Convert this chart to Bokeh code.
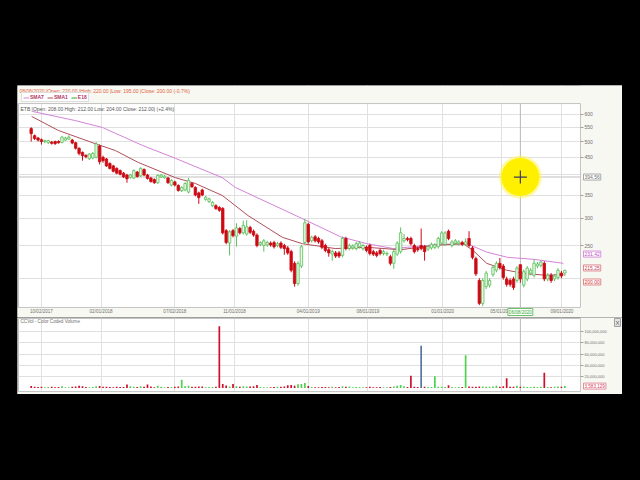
import pandas as pd
from bokeh.plotting import figure
from bokeh.models import (Range1d, FixedTicker, DatetimeTickFormatter, PrintfTickFormatter,
                          NumeralTickFormatter, Span, Label, Legend, LegendItem)
from bokeh.layouts import column
from bokeh.embed import file_html
from bokeh.resources import INLINE

# ---------------- data ----------------
first_week = "2017-09-11"
opens = [545, 520, 512, 506, 500, 496, 498, 500, 500, 497,
         505, 508, 505, 496, 478, 465, 456, 446, 448, 450,
         485, 450, 445, 432, 425, 418, 412, 405, 400, 394,
         392, 408, 398, 415, 400, 392, 388, 380, 395, 393,
         392, 374, 382, 373, 360, 362, 357, 378, 368, 355,
         362, 340, 335, 326, 326, 322, 320, 276, 254, 276,
         266, 280, 272, 270, 282, 275, 268, 252, 250, 251,
         254, 255, 250, 254, 250, 246, 240, 222, 194, 218,
         255, 288, 258, 265, 262, 258, 250, 243, 236, 238,
         238, 234, 262, 245, 246, 245, 248, 245, 247, 250,
         240, 238, 242, 237, 236, 232, 222, 236, 240, 258,
         262, 262, 250, 245, 250, 248, 244, 246, 247, 248,
         254, 252, 275, 250, 254, 253, 255, 252, 262, 246,
         229, 198, 170, 190, 192, 206, 212, 222, 218, 200,
         198, 200, 198, 220, 192, 200, 208, 205, 218, 219,
         222, 200, 205, 200, 202, 208, 208]
highs = [550, 524, 516, 510, 506, 506, 502, 503, 504, 519,
         516, 521, 509, 499, 481, 468, 459, 463, 466, 498,
         490, 455, 448, 435, 428, 421, 415, 408, 403, 403,
         415, 411, 421, 418, 403, 395, 391, 402, 403, 400,
         395, 389, 385, 376, 371, 381, 392, 381, 371, 358,
         365, 348, 344, 336, 329, 325, 323, 279, 277, 279,
         290, 283, 295, 296, 285, 278, 271, 257, 261, 258,
         257, 258, 256, 257, 253, 249, 243, 225, 225, 251,
         298, 291, 267, 268, 265, 261, 253, 246, 243, 241,
         241, 265, 265, 253, 252, 256, 257, 253, 250, 253,
         243, 241, 245, 243, 240, 235, 243, 257, 282, 270,
         265, 265, 253, 248, 280, 251, 251, 255, 254, 265,
         275, 275, 278, 259, 261, 259, 258, 262, 275, 249,
         232, 201, 201, 211, 201, 219, 225, 230, 221, 203,
         201, 203, 218, 220, 213, 218, 215, 228, 224, 226,
         225, 208, 208, 207, 215, 211, 212]
lows = [500, 505, 500, 490, 494, 492, 490, 489, 493, 494,
        502, 505, 491, 474, 456, 440, 447, 442, 444, 447,
        429, 434, 422, 415, 407, 402, 399, 392, 380, 390,
        389, 393, 395, 397, 388, 380, 377, 377, 392, 390,
        377, 371, 371, 358, 357, 359, 354, 367, 347, 330,
        347, 337, 332, 323, 317, 313, 269, 252, 234, 264,
        248, 269, 269, 267, 270, 265, 247, 249, 240, 248,
        248, 245, 247, 244, 235, 235, 209, 190, 191, 215,
        252, 253, 255, 255, 253, 244, 239, 232, 226, 230,
        230, 231, 242, 242, 243, 242, 245, 242, 239, 234,
        233, 231, 234, 234, 233, 219, 214, 233, 237, 255,
        257, 250, 237, 240, 242, 226, 241, 243, 244, 245,
        251, 249, 259, 247, 251, 250, 249, 249, 247, 228,
        204, 168, 167, 187, 189, 203, 209, 213, 199, 190,
        190, 186, 195, 195, 189, 197, 205, 202, 215, 216,
        197, 197, 195, 197, 199, 201, 204]
closes = [527, 510, 505, 500, 503, 503, 494, 493, 496, 515,
          512, 515, 495, 478, 462, 455, 452, 460, 462, 492,
          437, 440, 425, 418, 410, 405, 402, 395, 390, 400,
          412, 396, 418, 400, 391, 383, 380, 399, 400, 397,
          380, 386, 374, 361, 368, 378, 386, 370, 350, 344,
          350, 345, 341, 333, 320, 316, 272, 255, 274, 267,
          281, 272, 286, 283, 273, 268, 250, 255, 258, 255,
          251, 248, 253, 247, 245, 238, 212, 194, 222, 248,
          291, 256, 264, 258, 256, 247, 242, 238, 240, 233,
          233, 262, 245, 250, 249, 253, 254, 250, 242, 237,
          236, 234, 237, 240, 237, 222, 240, 254, 272, 262,
          260, 253, 240, 243, 245, 240, 248, 252, 251, 262,
          272, 272, 262, 256, 258, 256, 252, 256, 250, 231,
          207, 170, 198, 208, 198, 216, 222, 216, 202, 193,
          193, 189, 215, 200, 210, 215, 212, 222, 221, 224,
          200, 205, 198, 204, 212, 204, 212]
volume_millions = [3.8, 2.4, 2.0, 2.6, 1.6, 1.8, 2.2, 1.5, 2.0, 3.2,
                   1.5, 1.6, 2.4, 2.8, 4.0, 3.4, 2.0, 1.7, 1.9, 3.3,
                   3.6, 2.6, 2.2, 1.9, 1.7, 2.4, 2.0, 1.8, 6.4, 3.1,
                   2.5, 2.0, 3.2, 2.4, 6.6, 2.8, 1.6, 4.2, 2.2, 1.5,
                   1.8, 2.0, 2.5, 3.0, 14.6, 3.5, 4.0, 2.2, 2.5, 3.0,
                   2.8, 1.6, 2.0, 1.8, 2.6, 109.5, 7.4, 4.6, 3.0, 7.2,
                   3.4, 2.6, 3.2, 2.8, 3.0, 3.4, 5.6, 1.8, 1.6, 1.5,
                   1.6, 1.8, 2.6, 2.2, 3.0, 5.0, 5.4, 4.0, 7.0, 7.4,
                   9.2, 3.6, 1.8, 1.5, 1.6, 1.8, 2.0, 1.7, 2.2, 1.5,
                   1.8, 3.4, 2.6, 3.0, 1.6, 1.8, 2.0, 1.6, 1.5, 2.2,
                   1.7, 1.6, 1.8, 1.5, 1.6, 2.0, 3.0, 4.2, 5.6, 3.2,
                   1.8, 22.0, 2.2, 1.8, 75.0, 2.6, 1.8, 2.0, 20.8, 2.2,
                   2.4, 1.8, 5.0, 2.0, 1.6, 1.8, 2.0, 58.0, 3.0, 2.6,
                   2.2, 2.8, 3.0, 2.4, 2.2, 3.0, 4.2, 2.6, 3.2, 17.5,
                   2.6, 2.4, 4.0, 2.6, 2.2, 2.0, 1.8, 2.4, 2.0, 2.2,
                   27.0, 1.8, 1.6, 2.6, 3.0, 2.2, 3.583129]
highlight_weeks = ["2019-11-18"]

sma7_dates = ["2017-09-14", "2017-12-10", "2018-02-04", "2018-04-27", "2018-07-03",
              "2018-10-07", "2018-11-03", "2019-03-20", "2019-06-06", "2019-07-30",
              "2019-09-22", "2019-10-21", "2019-12-27", "2020-02-20", "2020-04-01",
              "2020-05-13", "2020-07-05", "2020-09-04"]
sma7_values = [611, 575, 549, 487, 447, 393, 368, 299, 265, 253,
               245, 247, 252, 253, 239, 231, 228, 222]
sma1_dates = ["2017-09-12", "2017-11-06", "2018-01-20", "2018-03-02", "2018-04-18",
              "2018-07-03", "2018-08-13", "2018-10-07", "2018-11-29", "2019-02-07",
              "2019-03-20", "2019-05-26", "2019-07-30", "2019-10-06", "2019-12-13",
              "2020-02-12", "2020-03-03", "2020-03-31", "2020-05-11", "2020-06-21",
              "2020-08-01", "2020-09-04"]
sma1_values = [591, 538, 493, 471, 435, 393, 378, 349, 305, 264,
               253, 245, 247, 243, 250, 253, 242, 222, 212, 207, 205, 206]
e18_dates = ["2020-09-04"]          # E18 is listed in the legend but not drawn
e18_values = [float("nan")]

date_ticks = ["2017-10-02", "2018-02-01", "2018-07-02", "2018-11-01", "2019-04-01",
              "2019-08-01", "2020-01-01", "2020-05-01", "2020-09-01"]
price_ticks = [250, 300, 350, 450, 500, 550, 600]
price_grid = [200, 250, 300, 350, 400, 450, 500, 550, 600]
volume_ticks = [20e6, 40e6, 60e6, 80e6, 100e6]

cross_date = "2020-06-08"
cross_price = 394.56
sma7_last, sma1_last, cross_close = 231.42, 215.25, 200.00
last_volume = 3583129

header_text = "08/06/2020 |Open: 220.00 |High: 220.00 |Low: 195.00 |Close: 200.00 (-0.7%)"
info_text = "ETB |Open: 208.00  High: 212.00  Low: 204.00  Close: 212.00| (+2.4%)"

# ---------------- geometry (styles, not data) ----------------
X_START, X_END = "2017-08-14", "2021-01-03"          # whole panel width
PLOT_X0, PLOT_X1 = "2017-08-16", "2020-10-09"        # plot area
P_YMIN, P_YMAX = 154.7, 726.4                        # whole price panel (log)
P_PLOT_LO, P_PLOT_HI = 165.4, 644.0                  # price plot area
V_YMIN, V_YMAX = -11.3e6, 125e6                      # whole volume panel
V_PLOT_LO, V_PLOT_HI = -6e6, 123.2e6                 # volume plot area


def ms(s):
    return pd.Timestamp(s).value / 1e6


FONT = "Liberation Sans"
PANEL = "#f8f8f2"
RED = "#cc0a14"
GREEN_LINE = "#5cbf5c"
GREEN_FILL = "#e9f8e9"

dates = pd.date_range(first_week, periods=len(closes), freq="7D")
up = [c >= o for o, c in zip(opens, closes)]
body_top = [max(o, c) for o, c in zip(opens, closes)]
body_bot = [min(o, c) for o, c in zip(opens, closes)]
cfill = [GREEN_FILL if u else RED for u in up]
cline = [GREEN_LINE if u else RED for u in up]
hl = set(pd.to_datetime(highlight_weeks))
vcol = ["#56789e" if d in hl else ("#4fd14f" if u else "#cc1030") for d, u in zip(dates, up)]
volumes = [v * 1e6 for v in volume_millions]

x_range = Range1d(ms(X_START), ms(X_END))
fmt = "%m/%d/%Y"
dt_fmt = DatetimeTickFormatter(days=fmt, months=fmt, years=fmt, hours=fmt,
                               minutes=fmt, seconds=fmt, milliseconds=fmt,
                               microseconds=fmt, minsec=fmt, hourmin=fmt)
xt = FixedTicker(ticks=[ms(d) for d in date_ticks])


def panel_strips(fig, ylo, yhi, plo, phi):
    xs0, xs1, px0, px1 = ms(X_START), ms(X_END), ms(PLOT_X0), ms(PLOT_X1)
    # beige surroundings of the plot area (hide grid lines there)
    fig.quad(left=[xs0, xs0, xs0, px1], right=[xs1, xs1, px0, xs1],
             bottom=[phi, ylo, ylo, ylo], top=[yhi, plo, yhi, yhi],
             fill_color=PANEL, line_color=None)


def plot_outline(fig, plo, phi):
    fig.quad(left=[ms(PLOT_X0)], right=[ms(PLOT_X1)], bottom=[plo], top=[phi],
             fill_color=None, line_color="#c4c4c4", line_width=1)


# ---------------- price figure ----------------
p = figure(width=605, height=232, x_axis_type="datetime", y_axis_type="log",
           x_range=x_range, y_range=Range1d(P_YMIN, P_YMAX), y_axis_location="right",
           toolbar_location=None, output_backend="svg",
           min_border_left=0, min_border_right=0, min_border_top=0, min_border_bottom=0,
           background_fill_color="white", border_fill_color=PANEL,
           outline_line_color=None)

p.xaxis.ticker = xt
p.xaxis.formatter = dt_fmt
p.xaxis.fixed_location = P_PLOT_LO
p.xgrid.ticker = xt
p.yaxis.ticker = FixedTicker(ticks=price_ticks)
p.yaxis.formatter = PrintfTickFormatter(format="%d")
p.yaxis.fixed_location = ms(PLOT_X1)
p.ygrid.ticker = FixedTicker(ticks=price_grid)
for ax in (p.xaxis[0], p.yaxis[0]):
    ax.axis_line_color = None
    ax.minor_tick_line_color = None
    ax.major_label_text_color = "#707070"
    ax.major_label_text_font = FONT
    ax.major_tick_in = 0
p.xaxis.major_tick_out = 0
p.xaxis.major_label_standoff = 2
p.xaxis.major_label_text_font_size = "4.6px"
p.yaxis.major_tick_out = 3
p.yaxis.major_tick_line_color = "#a0a0a0"
p.yaxis.major_label_standoff = 1
p.yaxis.major_label_text_font_size = "5px"
p.grid.grid_line_color = "#e0e0e0"

p.add_layout(Span(location=ms(cross_date), dimension="height", line_color="#b8b8b8",
                  line_width=1, level="underlay"))
p.add_layout(Span(location=cross_price, dimension="width", line_color="#d4d4d4",
                  line_width=1.5, level="underlay"))

panel_strips(p, P_YMIN, P_YMAX, P_PLOT_LO, P_PLOT_HI)

r7 = p.line(pd.to_datetime(sma7_dates), sma7_values, line_color="#d483d8", line_width=1)
r1 = p.line(pd.to_datetime(sma1_dates), sma1_values, line_color="#b24e5a", line_width=1)
r18 = p.line(pd.to_datetime(e18_dates), e18_values, line_color="#2ea82e", line_width=1)

p.segment(x0=dates, y0=highs, x1=dates, y1=lows, line_color=cline, line_width=1)
p.vbar(x=dates, top=body_top, bottom=body_bot, width=5 * 86400000,
       fill_color=cfill, line_color=cline, line_width=0.8)

p.scatter([pd.Timestamp(cross_date)], [cross_price], size=43, fill_color="#fff45c",
          fill_alpha=0.55, line_color=None)
p.scatter([pd.Timestamp(cross_date)], [cross_price], size=38, fill_color="#fff000",
          line_color=None)
p.scatter([pd.Timestamp(cross_date)], [cross_price], marker="cross", size=13,
          line_color="#3c3c5c", line_width=1.2)
plot_outline(p, P_PLOT_LO, P_PLOT_HI)

# header, legend and info line (screen units from the panel's bottom-left)
p.add_layout(Label(x=2, y=226.5, x_units="screen", y_units="screen", text=header_text,
                   text_font=FONT, text_font_size="5px", text_color="#e0603c",
                   text_baseline="middle"))
legend = Legend(items=[LegendItem(label="SMA7", renderers=[r7]),
                       LegendItem(label="SMA1", renderers=[r1]),
                       LegendItem(label="E18", renderers=[r18])],
                orientation="horizontal", location=(4, 215), margin=0, padding=1,
                spacing=3, glyph_width=6, glyph_height=5, label_standoff=1,
                label_width=0, label_height=5, label_text_font=FONT,
                label_text_font_size="5px", label_text_color="#b03a6a",
                label_text_font_style="bold",
                border_line_color="#bdbdbd", background_fill_color="white")
p.add_layout(legend)
p.add_layout(Label(x=3, y=209, x_units="screen", y_units="screen", text=info_text,
                   text_font=FONT, text_font_size="5px", text_color="#555555",
                   text_baseline="middle"))

# value boxes on the price axis
for val, txt, tc, bc, yo in [(cross_price, "394.56", "#707070", "#a8a8a8", 0),
                             (sma7_last, "231.42", "#c050c8", "#d890dc", 3),
                             (sma1_last, "215.25", "#c84050", "#dc8890", 0),
                             (cross_close, "200.00", "#d03030", "#e08888", -3)]:
    p.add_layout(Label(x=ms(PLOT_X1), y=val, x_offset=3, y_offset=yo, text=txt,
                       text_font=FONT, text_font_size="5px", text_color=tc,
                       text_baseline="middle", border_line_color=bc,
                       background_fill_color="white", padding=1))
p.add_layout(Label(x=ms(cross_date), y=5.5, y_units="screen", text="06/08/2020",
                   text_font=FONT, text_font_size="4.6px", text_color="#2fa82f",
                   text_align="center", text_baseline="middle",
                   border_line_color="#6cc06c", background_fill_color="white", padding=1))

# ---------------- volume figure ----------------
v = figure(width=605, height=77, x_axis_type="datetime", x_range=x_range,
           y_range=Range1d(V_YMIN, V_YMAX), y_axis_location="right",
           toolbar_location=None, output_backend="svg",
           min_border_left=0, min_border_right=0, min_border_top=0, min_border_bottom=0,
           background_fill_color="white", border_fill_color=PANEL,
           outline_line_color=None)
v.xaxis.visible = False
v.xgrid.ticker = xt
v.yaxis.ticker = FixedTicker(ticks=volume_ticks)
v.yaxis.formatter = NumeralTickFormatter(format="0,0")
v.yaxis.fixed_location = ms(PLOT_X1)
v.yaxis.axis_line_color = None
v.yaxis.minor_tick_line_color = None
v.yaxis.major_tick_in = 0
v.yaxis.major_tick_out = 3
v.yaxis.major_tick_line_color = "#a0a0a0"
v.yaxis.major_label_standoff = 1
v.yaxis.major_label_text_font_size = "4px"
v.yaxis.major_label_text_color = "#707070"
v.yaxis.major_label_text_font = FONT
v.grid.grid_line_color = "#e0e0e0"

v.add_layout(Span(location=ms(cross_date), dimension="height", line_color="#b8b8b8",
                  line_width=1, level="underlay"))
panel_strips(v, V_YMIN, V_YMAX, V_PLOT_LO, V_PLOT_HI)
v.vbar(x=dates, top=volumes, bottom=0, width=3.5 * 86400000, fill_color=vcol,
       line_color=None)
plot_outline(v, V_PLOT_LO, V_PLOT_HI)

v.add_layout(Label(x=3, y=73, x_units="screen", y_units="screen",
                   text="CCVol - Color Coded Volume", text_font=FONT,
                   text_font_size="4.6px", text_color="#707070", text_baseline="middle"))
v.add_layout(Label(x=ms(PLOT_X1), y=last_volume, x_offset=3, text="3,583,129",
                   text_font=FONT, text_font_size="4.6px", text_color="#d84060",
                   text_baseline="middle", border_line_color="#e090a0",
                   background_fill_color="white", padding=1))
v.add_layout(Label(x=600, y=72, x_units="screen", y_units="screen", text="X",
                   text_font=FONT, text_font_size="6px", text_color="#606060",
                   text_align="center", text_baseline="middle",
                   border_line_color="#a0a0a0", background_fill_color="#e4e4e4",
                   padding=1))

layout = column(p, v, spacing=0)

html = file_html(layout, INLINE)
style = ("<style>html,body{background:#000000 !important;margin:0 !important;"
         "padding:0 !important;}body{padding:85px 0 0 17px !important;}</style>")
html = html.replace("</head>", style + "</head>", 1)
open("out.html", "w").write(html)
